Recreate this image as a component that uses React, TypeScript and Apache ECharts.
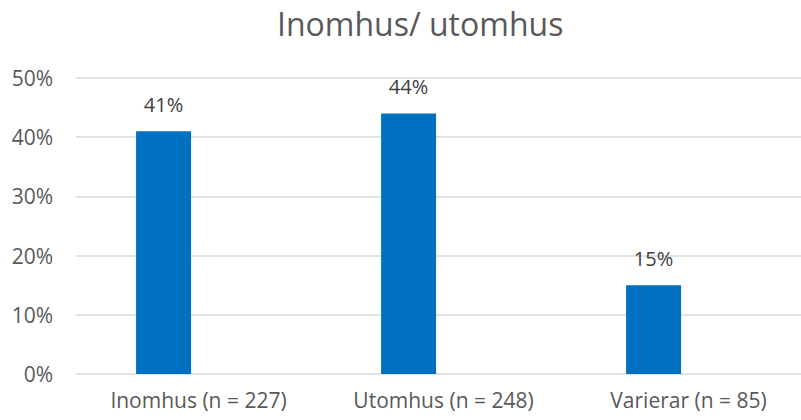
import React, { useEffect, useRef } from "react";
import * as echarts from "echarts";

const categories = ["Inomhus (n = 227)", "Utomhus (n = 248)", "Varierar (n = 85)"];
const values = [0.41, 0.44, 0.15];
const emptySeries = ["-", "-", "-"];
const titleText = "Inomhus/ utomhus";

const FONT = "'Open Sans', 'Liberation Sans', sans-serif";

export default function App() {
  const ref = useRef<HTMLDivElement>(null);
  useEffect(() => {
    const chart = echarts.init(ref.current!, null, { renderer: "svg" });
    const pct = (v: number) => Math.round(v * 100) + "%";
    chart.setOption({
      animation: false,
      backgroundColor: "#ffffff",
      title: {
        text: titleText,
        left: 272,
        top: 2,
        textStyle: { fontFamily: FONT, fontSize: 32, fontWeight: "normal", color: "#595959" },
      },
      grid: { left: 76, right: 0, top: 78, bottom: 46 },
      xAxis: {
        type: "category",
        data: categories,
        axisLine: { show: false },
        axisTick: { show: false },
        axisLabel: { fontFamily: FONT, fontSize: 21, color: "#595959", margin: 15 },
      },
      yAxis: {
        type: "value",
        min: 0,
        max: 0.5,
        interval: 0.1,
        axisLine: { show: false },
        axisTick: { show: false },
        splitLine: { lineStyle: { color: "#d9d9d9", width: 1.5 } },
        axisLabel: { fontFamily: FONT, fontSize: 21, color: "#595959", margin: 23, formatter: pct },
      },
      series: [
        {
          type: "bar",
          data: values,
          barWidth: 55,
          barGap: "27%",
          itemStyle: { color: "#0070c0" },
          label: {
            show: true,
            position: "top",
            distance: 17,
            fontFamily: FONT,
            fontSize: 20,
            color: "#404040",
            formatter: (p: any) => pct(p.value),
          },
        },
        {
          type: "bar",
          data: emptySeries,
          barWidth: 55,
          itemStyle: { color: "#ed7d31" },
        },
      ],
    });
    return () => chart.dispose();
  }, []);
  return (
    <div
      style={{
        position: "absolute",
        left: 0,
        top: 0,
        width: 801,
        height: 420,
        overflow: "hidden",
        background: "#ffffff",
      }}
    >
      <div ref={ref} style={{ width: 811, height: 420 }} />
    </div>
  );
}
